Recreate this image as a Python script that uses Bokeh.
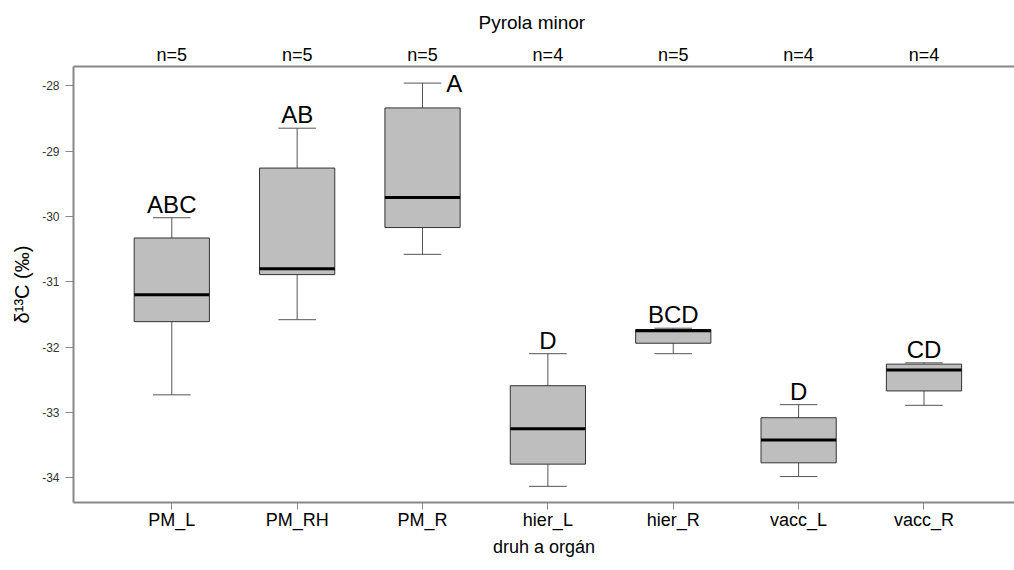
from bokeh.plotting import figure
from bokeh.models import Range1d, LinearAxis, FixedTicker, ColumnDataSource
from bokeh.core.properties import value
from bokeh.embed import file_html
from bokeh.resources import INLINE

# ---- data ----
groups = ["PM_L", "PM_RH", "PM_R", "hier_L", "hier_R", "vacc_L", "vacc_R"]
lower = [-32.73, -31.58, -30.58, -34.13, -32.10, -33.98, -32.89]
q1 = [-31.61, -30.89, -30.17, -33.79, -31.94, -33.77, -32.67]
median = [-31.20, -30.80, -29.71, -33.25, -31.75, -33.42, -32.35]
q3 = [-30.33, -29.26, -28.34, -32.59, -31.73, -33.08, -32.26]
upper = [-30.02, -28.65, -27.96, -32.10, -31.71, -32.88, -32.24]
n_counts = [5, 5, 5, 4, 5, 4, 4]
letters = ["ABC", "AB", "A", "D", "BCD", "D", "CD"]
y_ticks = [-34, -33, -32, -31, -30, -29, -28]

FONT = "Liberation Sans"
xs = list(range(1, len(groups) + 1))

y_start, y_end = -34.377, -27.706
x_start, x_end = 0.216, 7.722

p = figure(width=1014, height=570, output_backend="svg", toolbar_location=None,
           x_range=Range1d(x_start, x_end), y_range=Range1d(y_start, y_end),
           x_axis_location=None, y_axis_location=None,
           min_border_left=73, min_border_right=0, min_border_top=66, min_border_bottom=68)
p.outline_line_color = None
p.xgrid.visible = False
p.ygrid.visible = False
p.background_fill_color = "white"
p.border_fill_color = "white"

p.title.text = "Pyrola minor"
p.title.align = "left"
p.title.offset = 405
p.title.text_font = FONT
p.title.text_font_size = "19px"
p.title.text_font_style = "normal"
p.title.text_color = "black"
p.title.standoff = 17

axis_col = "#888888"

# left axis
ya = LinearAxis(ticker=FixedTicker(ticks=y_ticks),
                major_label_overrides={t: str(t) for t in y_ticks})
ya.axis_label = "δ¹³C (‰)"
ya.axis_label_text_font = FONT
ya.axis_label_text_font_size = "20px"
ya.axis_label_text_font_style = "normal"
ya.axis_label_text_color = "black"
ya.axis_label_standoff = 6
ya.major_label_text_font = FONT
ya.major_label_text_font_size = "12px"
ya.major_label_text_color = "#333333"
ya.major_label_orientation = "horizontal"
ya.major_label_standoff = 6
ya.major_tick_out = 8
ya.major_tick_in = 0
ya.minor_tick_out = 0
ya.minor_tick_in = 0
ya.axis_line_color = axis_col
ya.axis_line_width = 2
ya.major_tick_line_color = axis_col
ya.major_tick_line_width = 1
p.add_layout(ya, "left")

# bottom axis
xa = LinearAxis(ticker=FixedTicker(ticks=xs),
                major_label_overrides={x: g for x, g in zip(xs, groups)})
xa.axis_label = "druh a orgán"
xa.axis_label_text_font = FONT
xa.axis_label_text_font_size = "18px"
xa.axis_label_text_font_style = "normal"
xa.axis_label_text_color = "black"
xa.axis_label_standoff = 4
xa.major_label_text_font = FONT
xa.major_label_text_font_size = "18px"
xa.major_label_text_color = "black"
xa.major_label_standoff = 0
xa.major_tick_out = 7
xa.major_tick_in = 0
xa.minor_tick_out = 0
xa.minor_tick_in = 0
xa.axis_line_color = axis_col
xa.axis_line_width = 2
xa.major_tick_line_color = axis_col
p.add_layout(xa, "below")

# top axis with n= labels
ta = LinearAxis(ticker=FixedTicker(ticks=xs),
                major_label_overrides={x: f"n={n}" for x, n in zip(xs, n_counts)})
ta.major_label_text_font = FONT
ta.major_label_text_font_size = "18px"
ta.major_label_text_color = "black"
ta.major_label_standoff = 2
ta.major_tick_out = 0
ta.major_tick_in = 0
ta.minor_tick_out = 0
ta.minor_tick_in = 0
ta.major_tick_line_color = None
ta.axis_line_color = axis_col
ta.axis_line_width = 2
p.add_layout(ta, "above")

src = ColumnDataSource(dict(x=xs, lower=lower, q1=q1, median=median, q3=q3, upper=upper,
                            letters=letters))

box_w = 0.6
cap_w = 0.3
px_per_x = 125.3
whisk_col = "#555555"

# whiskers
p.segment(x0="x", y0="q3", x1="x", y1="upper", source=src, line_color=whisk_col, line_width=1)
p.segment(x0="x", y0="q1", x1="x", y1="lower", source=src, line_color=whisk_col, line_width=1)
# caps
p.dash(x="x", y="upper", source=src, size=cap_w * px_per_x, angle=0, line_color=whisk_col, line_width=1)
p.dash(x="x", y="lower", source=src, size=cap_w * px_per_x, angle=0, line_color=whisk_col, line_width=1)
# boxes
p.vbar(x="x", bottom="q1", top="q3", width=box_w, source=src, fill_color="#bebebe",
       line_color="#333333", line_width=1)
# medians
p.segment(x0=[x - box_w / 2 for x in xs], y0=median, x1=[x + box_w / 2 for x in xs], y1=median,
          line_color="black", line_width=3)

# significance letters: above the upper whisker if room, otherwise to its right
px_per_unit = 65.2
label_h = 24 / px_per_unit
above_x, above_y, above_t = [], [], []
right_x, right_y, right_t = [], [], []
for x, u, t in zip(xs, upper, letters):
    if u + label_h < y_end:
        above_x.append(x); above_y.append(u); above_t.append(t)
    else:
        right_x.append(x + cap_w / 2); right_y.append(u); right_t.append(t)

p.text(x=above_x, y=above_y, text=above_t, text_font=value(FONT), text_font_size="24px",
       text_align="center", text_baseline="bottom", y_offset=0, text_color="black")
p.text(x=right_x, y=right_y, text=right_t, text_font=value(FONT), text_font_size="24px",
       text_align="left", text_baseline="middle", x_offset=5, y_offset=0, text_color="black")

open("out.html", "w").write(file_html(p, INLINE))
